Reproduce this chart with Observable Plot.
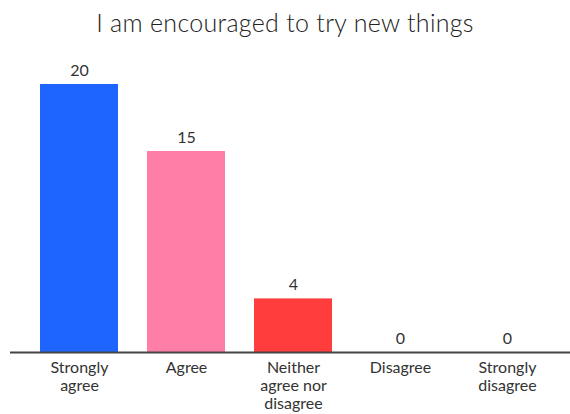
<!DOCTYPE html>
<html>
<head>
<meta charset="utf-8">
<script src="https://cdn.jsdelivr.net/npm/d3@7"></script>
<script src="https://cdn.jsdelivr.net/npm/@observablehq/plot@0.6"></script>
<style>
  html, body { margin: 0; padding: 0; background: #fff; }
  #title { font-family: Lato, "Open Sans", sans-serif; font-weight: 300; font-size: 25px; letter-spacing: 0.3px; color: #222; text-align: center; height: 50px; line-height: 44px; }
</style>
</head>
<body>
<div id="title">I am encouraged to try new things</div>
<div id="chart"></div>
<script>
const categories = ["Strongly agree", "Agree", "Neither agree nor disagree", "Disagree", "Strongly disagree"];
const tickLabels = ["Strongly\nagree", "Agree", "Neither\nagree nor\ndisagree", "Disagree", "Strongly\ndisagree"];
const counts = [20, 15, 4, 0, 0];
const colors = ["#1e64ff", "#ff7ea8", "#ff3d3d", "#cccccc", "#cccccc"];

const data = categories.map((c, i) => ({category: c, count: counts[i], color: colors[i]}));
const labelOf = new Map(categories.map((c, i) => [c, tickLabels[i]]));

const chart = Plot.plot({
  width: 570,
  height: 364,
  marginTop: 0,
  marginBottom: 62,
  marginLeft: 10,
  marginRight: 0,
  style: {fontFamily: "Lato, 'Open Sans', sans-serif", fontSize: "16px", color: "#333"},
  x: {domain: categories, range: [18.6, 567.6], paddingInner: 0.27, paddingOuter: 0.2, label: null},
  y: {domain: [0, 20], range: [302, 34], axis: null},
  marks: [
    Plot.barY(data, {x: "category", y: "count", fill: "color"}),
    Plot.text(data, {x: "category", y: "count", text: d => String(d.count), dy: -14, fontSize: 16, fill: "#333"}),
    Plot.ruleY([0], {stroke: "#444", strokeWidth: 2}),
    Plot.axisX({tickSize: 0, tickPadding: 8, tickFormat: c => labelOf.get(c), fontSize: 16, lineHeight: 1.13, fill: "#333"})
  ]
});
document.getElementById("chart").appendChild(chart);
</script>
</body>
</html>
